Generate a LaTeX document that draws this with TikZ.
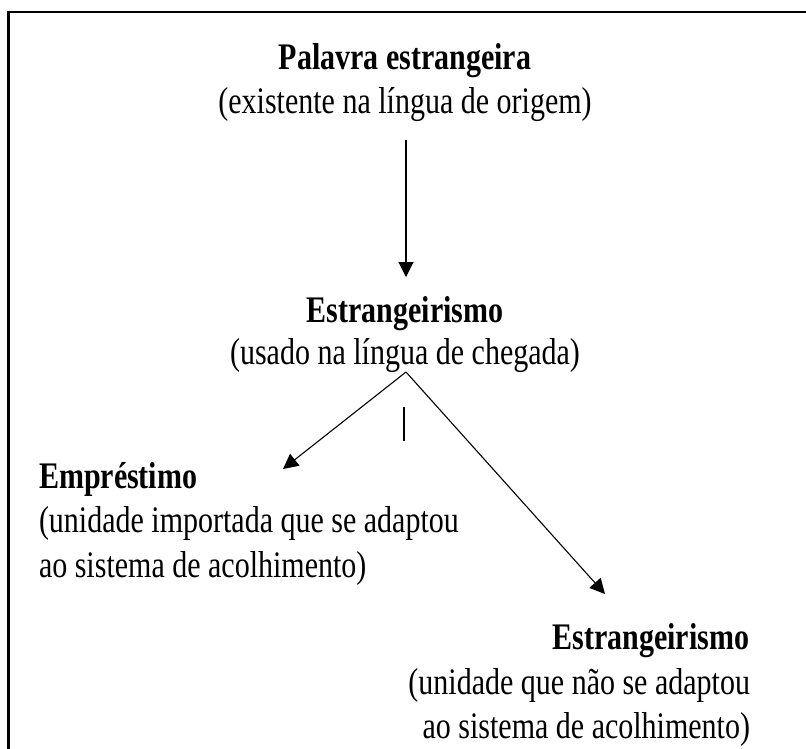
\documentclass[tikz,border=0pt]{standalone}
\usepackage{fontspec}
\setmainfont{Liberation Serif}
\usetikzlibrary{arrows.meta}
\tikzset{
  txt/.style={inner sep=0pt, outer sep=0pt, yscale=1.25, transform shape, font=\fontsize{30}{40}\selectfont},
  bld/.style={txt, font=\fontsize{30}{40}\selectfont\bfseries},
  conn/.style={line width=1.1pt, -{Triangle[length=15pt,width=15pt]}},
  frame/.style={line width=2.8pt}
}
\begin{document}
\begin{tikzpicture}[x=1pt,y=-1pt]
\useasboundingbox (0,0) rectangle (806,749);
\clip (0,0) rectangle (806,749);
\draw[frame] (8.5,820) -- (8.5,12) -- (900,12);
% top block
\node[bld, anchor=base] (t1) at (405,70) {Palavra estrangeira};
\node[txt, anchor=base] (t2) at (405,114) {(existente na língua de origem)};
% middle block
\node[bld, anchor=base] (m1) at (405,322) {Estrangeirismo};
\node[txt, anchor=base] (m2) at (405,364) {(usado na língua de chegada)};
% left block
\node[bld, anchor=base west] (l1) at (39,488) {Empréstimo};
\node[txt, anchor=base west] (l2) at (39,532) {(unidade importada que se adaptou};
\node[txt, anchor=base west] (l3) at (39,577) {ao sistema de acolhimento)};
% right block
\node[bld, anchor=base east] (r1) at (749,649) {Estrangeirismo};
\node[txt, anchor=base east] (r2) at (750,694) {(unidade que não se adaptou};
\node[txt, anchor=base east] (r3) at (750,738) {ao sistema de acolhimento)};
% connector points
\coordinate (topstart) at (406,140);
\coordinate (toptip) at (406,277);
\coordinate (apex) at (406,372);
\coordinate (ltip) at (283,469);
\coordinate (rtip) at (605,594);
\coordinate (tickA) at (404,407);
\coordinate (tickB) at (404,441);
\draw[conn] (topstart) -- (toptip);
\draw[conn] (apex) -- (ltip);
\draw[conn] (apex) -- (rtip);
\draw[line width=1.1pt] (tickA) -- (tickB);
\end{tikzpicture}
\end{document}
